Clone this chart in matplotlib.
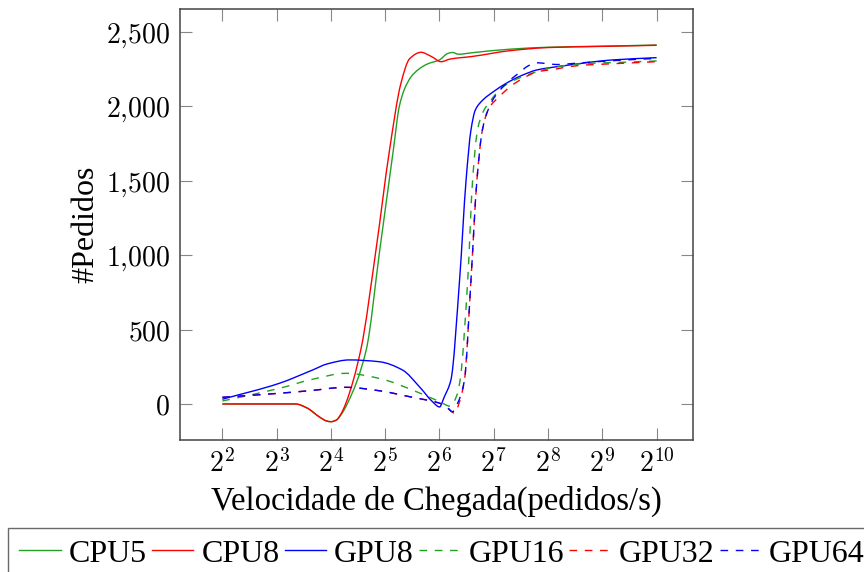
import numpy as np
import matplotlib
matplotlib.use('Agg')
import matplotlib.pyplot as plt
from matplotlib.path import Path
from matplotlib.patches import PathPatch
from matplotlib.lines import Line2D

plt.rcParams['mathtext.fontset'] = 'cm'

# x values are log2(pedidos/s)
cpu5_x = [2.0, 3.0, 3.35, 3.55, 3.8, 3.92, 4.0, 4.1, 4.2, 4.30, 4.65, 4.90, 5.15, 5.26, 5.36, 5.48, 5.62, 5.78, 6.0, 6.15, 6.24, 6.35, 6.6, 7.3, 8.0, 9.0, 10.0]
cpu5_y = [0, 0, 0, -25, -90, -114, -119, -108, -65, 0, 363, 1035, 1707, 2000, 2120, 2200, 2250, 2285, 2312, 2355, 2362, 2350, 2360, 2384, 2397, 2404, 2412]

cpu8_x = [2.0, 3.0, 3.35, 3.55, 3.8, 3.92, 4.0, 4.1, 4.18, 4.27, 4.55, 4.83, 5.08, 5.29, 5.45, 5.66, 5.85, 6.03, 6.2, 6.6, 7.3, 8.0, 9.0, 10.0]
cpu8_y = [0, 0, 0, -25, -90, -114, -119, -108, -70, 0, 363, 1035, 1707, 2155, 2320, 2363, 2335, 2300, 2318, 2335, 2374, 2395, 2403, 2410]

gpu8_x = [2.0, 3.05, 3.66, 3.93, 4.34, 4.89, 5.32, 5.63, 5.87, 6.0, 6.09, 6.21, 6.37, 6.49, 6.58, 6.66, 6.8, 7.0, 7.23, 7.5, 7.8, 8.2, 9.2, 10.0]
gpu8_y = [32, 139, 228, 269, 296, 284, 228, 116, 16, -20, 49, 161, 833, 1505, 1841, 1975, 2043, 2100, 2155, 2205, 2245, 2268, 2312, 2327]

gpu16_x = [2.0, 3.05, 3.66, 4.28, 4.89, 5.5, 6.0, 6.2, 6.31, 6.38, 6.52, 6.61, 6.70, 6.8, 6.95, 7.17, 7.5, 7.8, 8.1, 8.7, 9.3, 10.0]
gpu16_y = [20, 105, 166, 206, 172, 94, 16, -15, 49, 161, 833, 1505, 1841, 1960, 2043, 2132, 2195, 2233, 2262, 2288, 2295, 2305]

gpu32_x = [2.0, 3.05, 3.6, 4.28, 4.89, 5.5, 5.97, 6.12, 6.28, 6.36, 6.46, 6.58, 6.69, 6.79, 6.9, 7.1, 7.32, 7.57, 7.81, 8.12, 8.4, 8.7, 9.0, 10.0]
gpu32_y = [45, 72, 89, 112, 89, 45, 9, -15, -62, 5, 161, 833, 1505, 1841, 1980, 2065, 2137, 2195, 2233, 2249, 2267, 2278, 2283, 2300]

gpu64_x = [2.0, 3.05, 3.6, 4.28, 4.89, 5.5, 5.97, 6.1, 6.24, 6.34, 6.46, 6.58, 6.69, 6.79, 6.9, 7.01, 7.25, 7.45, 7.63, 7.78, 7.95, 8.15, 8.6, 9.2, 10.0]
gpu64_y = [45, 72, 89, 112, 89, 45, 9, -10, -52, 10, 161, 833, 1505, 1841, 1980, 2060, 2160, 2220, 2271, 2293, 2288, 2281, 2292, 2307, 2322]

series = [
    ('CPU5', cpu5_x, cpu5_y, '#22a022', '-'),
    ('CPU8', cpu8_x, cpu8_y, '#ff0000', '-'),
    ('GPU8', gpu8_x, gpu8_y, '#0000ff', '-'),
    ('GPU16', gpu16_x, gpu16_y, '#22a022', (0, (5.5, 5.5))),
    ('GPU32', gpu32_x, gpu32_y, '#ff0000', (0, (5.5, 5.5))),
    ('GPU64', gpu64_x, gpu64_y, '#0000ff', (0, (5.5, 5.5))),
]

xticks = [2, 3, 4, 5, 6, 7, 8, 9, 10]
yticks = [0, 500, 1000, 1500, 2000, 2500]


def smooth_path(xs, ys):
    # cubic bezier through the points, pchip-style tangents (no overshoot)
    xs = np.asarray(xs, float)
    ys = np.asarray(ys, float)
    n = len(xs)
    h = np.diff(xs)
    d = np.diff(ys) / h
    m = np.zeros(n)
    m[0] = d[0]
    m[-1] = d[-1]
    for i in range(1, n - 1):
        if d[i - 1] * d[i] > 0:
            w1 = 2 * h[i] + h[i - 1]
            w2 = h[i] + 2 * h[i - 1]
            m[i] = (w1 + w2) / (w1 / d[i - 1] + w2 / d[i])
    verts = [(xs[0], ys[0])]
    codes = [Path.MOVETO]
    for i in range(n - 1):
        verts += [(xs[i] + h[i] / 3, ys[i] + m[i] * h[i] / 3),
                  (xs[i + 1] - h[i] / 3, ys[i + 1] - m[i + 1] * h[i] / 3),
                  (xs[i + 1], ys[i + 1])]
        codes += [Path.CURVE4] * 3
    return Path(verts, codes)


fig = plt.figure(figsize=(8.64, 5.72), dpi=100)
ax = fig.add_axes([180 / 864, 132 / 572, 513 / 864, 430.7 / 572])

handles = []
for name, xs, ys, col, ls in series:
    ax.add_patch(PathPatch(smooth_path(xs, ys), fill=False, edgecolor=col,
                           linewidth=1.0, linestyle=ls))
    handles.append(Line2D([], [], color=col, linewidth=1.0, linestyle=ls, label=name))

ax.set_xlim(1.22, 10.67)
ax.set_ylim(-242, 2652)
ax.set_xticks(xticks)
ax.set_xticklabels([r'$2^{%d}$' % k for k in xticks])
ax.set_yticks(yticks)
ax.set_yticklabels(['$' + f'{v:,}'.replace(',', '{,}') + '$' for v in yticks])
ax.tick_params(direction='in', length=8.4, width=0.8, color='#888888',
               top=True, right=True, labelsize=20, pad=7)
for s in ax.spines.values():
    s.set_color('#444444')
    s.set_linewidth(1.1)

ax.set_xlabel('Velocidade de Chegada(pedidos/s)', family='Liberation Serif',
              fontsize=23.5, labelpad=5)
ax.set_ylabel('#Pedidos', family='Liberation Serif', fontsize=23, labelpad=4)

leg = fig.legend(handles=handles, loc='upper left', bbox_to_anchor=(8 / 864, 1 - 528 / 572),
                 ncol=6, frameon=True, fancybox=False, edgecolor='#444444',
                 prop={'family': 'Liberation Serif', 'size': 23},
                 handlelength=1.3, handletextpad=0.25, columnspacing=0.16,
                 borderpad=0.35, borderaxespad=0)
leg.get_frame().set_linewidth(1.0)

fig.savefig('out.png', dpi=100)
